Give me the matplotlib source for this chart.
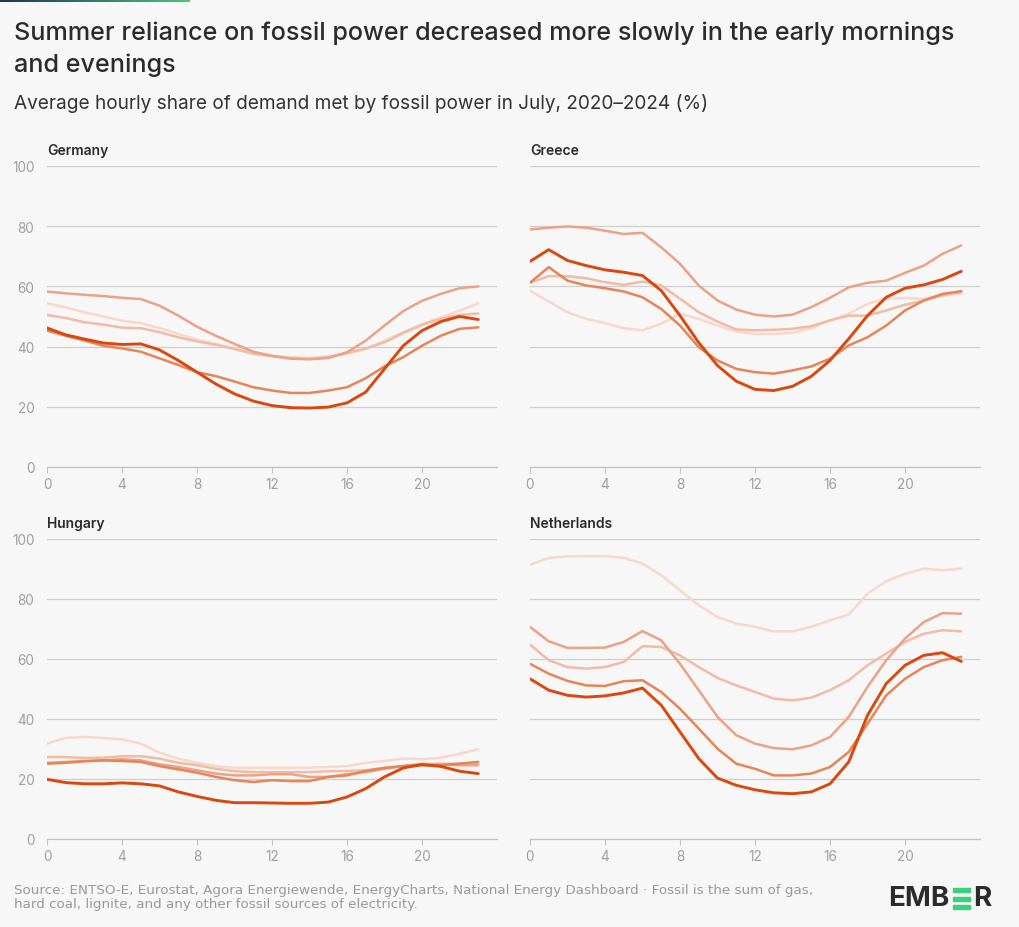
import numpy as np
import matplotlib
matplotlib.use("Agg")
import matplotlib.pyplot as plt
from matplotlib.patches import Rectangle
from matplotlib.colors import LinearSegmentedColormap

# hourly share of demand met by fossil power in July (%), hours 0..23
hours = list(range(24))
years = ["2020", "2021", "2022", "2023", "2024"]

germany = {
    "2020": [54.4, 53.0, 51.4, 50.0, 48.6, 47.8, 46.2, 44.2, 42.3, 40.9, 39.4, 37.9,
             37.0, 36.5, 36.2, 36.8, 37.6, 39.2, 42.0, 44.8, 47.5, 49.7, 51.9, 54.4],
    "2021": [50.5, 49.5, 48.1, 47.3, 46.3, 46.1, 44.8, 43.1, 41.7, 40.6, 39.2, 37.6,
             36.8, 36.1, 35.9, 36.5, 37.9, 39.4, 41.4, 44.5, 47.2, 49.2, 50.5, 51.0],
    "2022": [58.3, 57.7, 57.2, 56.8, 56.2, 55.8, 53.6, 50.3, 46.6, 43.6, 40.9, 38.3,
             36.9, 36.0, 35.8, 36.2, 38.1, 42.0, 47.0, 51.8, 55.2, 57.5, 59.4, 60.0],
    "2023": [45.3, 43.6, 42.0, 40.3, 39.4, 38.3, 36.1, 33.9, 31.5, 30.2, 28.4, 26.5,
             25.4, 24.6, 24.6, 25.4, 26.5, 29.5, 33.4, 36.5, 40.3, 43.6, 45.9, 46.4],
    "2024": [46.2, 43.9, 42.5, 41.2, 40.7, 40.9, 38.9, 35.4, 31.5, 27.6, 24.3, 21.9,
             20.4, 19.7, 19.6, 19.9, 21.3, 24.9, 32.6, 40.3, 45.3, 48.3, 50.0, 49.0],
}
greece = {
    "2020": [58.6, 55.0, 51.4, 49.2, 47.8, 46.1, 45.4, 47.6, 50.9, 49.2, 47.0, 45.0,
             44.2, 44.2, 44.6, 46.1, 48.7, 50.9, 54.2, 56.1, 56.1, 55.9, 57.0, 57.7],
    "2021": [61.2, 63.4, 63.4, 62.7, 61.4, 60.5, 61.6, 60.3, 55.9, 51.4, 48.3, 45.7,
             45.4, 45.6, 45.9, 46.8, 48.7, 50.3, 50.3, 52.0, 53.9, 55.3, 57.0, 58.3],
    "2022": [78.9, 79.5, 79.9, 79.5, 78.5, 77.4, 77.8, 73.0, 67.5, 60.3, 55.3, 52.3,
             50.6, 50.0, 50.6, 53.1, 56.2, 59.7, 61.2, 61.9, 64.5, 66.9, 70.8, 73.6],
    "2023": [61.2, 66.4, 61.9, 60.3, 59.4, 58.3, 56.4, 52.5, 47.0, 39.8, 35.4, 32.6,
             31.5, 31.0, 32.1, 33.4, 36.0, 40.4, 43.1, 47.0, 52.0, 55.3, 57.5, 58.4],
    "2024": [68.3, 72.2, 68.6, 66.9, 65.5, 64.7, 63.6, 58.6, 50.3, 41.3, 33.7, 28.5,
             25.8, 25.4, 26.8, 30.1, 35.4, 42.6, 50.3, 56.4, 59.4, 60.5, 62.3, 65.0],
}
hungary = {
    "2020": [31.8, 33.7, 34.0, 33.7, 33.2, 31.8, 28.8, 26.8, 25.4, 24.3, 23.7, 23.7,
             23.7, 23.7, 23.8, 24.0, 24.3, 25.4, 26.0, 26.8, 26.6, 27.1, 28.4, 29.9],
    "2021": [27.3, 27.3, 27.0, 27.1, 27.6, 27.6, 26.8, 25.4, 24.6, 23.4, 22.6, 22.3,
             22.3, 22.3, 22.3, 22.6, 22.7, 22.9, 23.7, 24.3, 24.8, 25.1, 25.1, 25.1],
    "2022": [25.4, 25.7, 26.0, 26.2, 26.6, 26.2, 24.9, 24.0, 22.9, 21.8, 21.2, 21.2,
             21.6, 21.6, 20.7, 20.7, 21.6, 22.3, 23.4, 24.3, 25.1, 24.8, 24.6, 24.6],
    "2023": [25.1, 25.4, 25.9, 26.2, 26.0, 25.7, 24.3, 23.2, 22.1, 20.7, 19.6, 19.0,
             19.6, 19.3, 19.3, 20.7, 21.2, 22.7, 23.7, 24.3, 24.6, 24.6, 25.1, 25.7],
    "2024": [19.9, 18.8, 18.4, 18.4, 18.7, 18.4, 17.7, 15.7, 14.2, 12.9, 12.1, 12.1,
             12.0, 11.9, 11.9, 12.3, 14.0, 16.8, 20.7, 23.7, 24.8, 24.2, 22.6, 21.8],
}
netherlands = {
    "2020": [91.4, 93.7, 94.2, 94.3, 94.3, 93.7, 91.8, 87.9, 82.9, 77.9, 74.0, 71.8,
             70.7, 69.2, 69.2, 70.7, 72.9, 74.8, 81.8, 85.9, 88.4, 90.1, 89.6, 90.1],
    "2021": [64.8, 59.6, 57.3, 56.8, 57.3, 59.0, 64.3, 64.0, 61.2, 57.3, 53.7, 51.2,
             49.0, 46.8, 46.2, 47.1, 49.6, 52.9, 57.9, 61.8, 65.7, 68.4, 69.6, 69.2],
    "2022": [70.7, 65.9, 63.7, 63.7, 63.8, 65.7, 69.3, 66.2, 58.4, 49.6, 40.7, 34.6,
             31.8, 30.3, 29.9, 31.2, 34.0, 40.7, 50.7, 59.6, 66.8, 72.3, 75.3, 75.1],
    "2023": [58.4, 55.1, 52.7, 51.2, 51.0, 52.6, 52.9, 49.0, 43.4, 36.8, 30.1, 25.1,
             23.4, 21.2, 21.2, 21.8, 24.0, 29.0, 38.4, 47.9, 53.4, 57.3, 59.6, 60.7],
    "2024": [53.4, 49.6, 47.9, 47.3, 47.7, 48.7, 50.3, 44.6, 35.7, 26.8, 20.3, 17.9,
             16.4, 15.4, 15.1, 15.7, 18.4, 25.7, 41.2, 51.8, 57.9, 61.2, 62.1, 59.2],
}

countries = ["Germany", "Greece", "Hungary", "Netherlands"]
country_data = [germany, greece, hungary, netherlands]
year_colors = {"2020": "#f7d8ca", "2021": "#f1bca6", "2022": "#eba286",
               "2023": "#e58559", "2024": "#d9480f"}
year_widths = {"2020": 1.8, "2021": 1.8, "2022": 1.8, "2023": 1.8, "2024": 2.1}

W, H = 1020, 928
bg = "#f7f7f7"
fig = plt.figure(figsize=(W / 100, H / 100), dpi=100, facecolor=bg)
plt.rcParams["font.family"] = ["Inter", "DejaVu Sans"]

# gradient bar at the very top
bar = fig.add_axes([0, 1 - 3 / H, 190 / W, 3 / H])
grad = np.linspace(0, 1, 256).reshape(1, -1)
cm = LinearSegmentedColormap.from_list("ember", ["#1c3553", "#2f7d6a", "#4cc47c"])
bar.imshow(grad, aspect="auto", cmap=cm)
bar.axis("off")

fig.text(14 / W, 1 - 33 / H, "Summer reliance on fossil power decreased more slowly in the early mornings",
         fontsize=18.1, color="#2b2b2b", va="center", ha="left", fontweight="medium")
fig.text(14 / W, 1 - 65 / H, "and evenings",
         fontsize=18.1, color="#2b2b2b", va="center", ha="left", fontweight="medium")
fig.text(14 / W, 1 - 104 / H, "Average hourly share of demand met by fossil power in July, 2020\u20132024 (%)",
         fontsize=13.7, color="#333333", va="center", ha="left")

# panel boxes in pixels: left, top(100), bottom(0)
boxes = [(47, 167, 468), (530, 167, 468), (47, 540, 840), (530, 540, 840)]
pw = 450

for i, (name, data) in enumerate(zip(countries, country_data)):
    left, top, bottom = boxes[i]
    ax = fig.add_axes([left / W, 1 - bottom / H, pw / W, (bottom - top) / H])
    ax.set_facecolor(bg)
    for y in years:
        ax.plot(hours, data[y], color=year_colors[y], lw=year_widths[y],
                solid_joinstyle="round", solid_capstyle="round", zorder=3)
    ax.set_xlim(0, 24)
    ax.set_ylim(0, 100)
    ax.set_yticks([0, 20, 40, 60, 80, 100])
    ax.set_xticks([0, 4, 8, 12, 16, 20])
    ax.grid(axis="y", color="#cfcfcf", lw=0.9, zorder=1)
    ax.grid(axis="x", visible=False)
    for s in ["top", "right", "left"]:
        ax.spines[s].set_visible(False)
    ax.spines["bottom"].set_color("#c4c4c4")
    ax.spines["bottom"].set_linewidth(0.9)
    ax.tick_params(axis="x", length=4, width=0.8, color="#c4c4c4", labelsize=9.8,
                   labelcolor="#a0a0a0", pad=3)
    ax.tick_params(axis="y", length=0, labelsize=9.8, labelcolor="#a0a0a0", pad=9)
    if i % 2 == 1:
        ax.set_yticklabels([])
    ax.text(0, 1.0 + 16 / (bottom - top), name, transform=ax.transAxes, fontsize=10,
            fontweight="semibold", color="#2b2b2b", va="center", ha="left")

footer_font = ["Liberation Sans Narrow", "DejaVu Sans"]
fig.text(14 / W, 1 - 891 / H,
         "Source: ENTSO-E, Eurostat, Agora Energiewende, EnergyCharts, National Energy Dashboard \u00b7 Fossil is the sum of gas,",
         fontsize=9.7, color="#9a9a9a", va="center", ha="left", family=footer_font)
fig.text(14 / W, 1 - 905 / H, "hard coal, lignite, and any other fossil sources of electricity.",
         fontsize=9.7, color="#9a9a9a", va="center", ha="left", family=footer_font)

# EMBER logo
fig.text(888 / W, 1 - 899 / H, "EMB", fontsize=20, fontweight="bold", color="#2b2b2b",
         va="center", ha="left")
for k in range(3):
    fig.patches.append(Rectangle((953 / W, 1 - (889 + k * 8.5 + 4) / H), 17 / W, 4 / H,
                                 transform=fig.transFigure, color="#3ccf7c"))
fig.text(973 / W, 1 - 899 / H, "R", fontsize=20, fontweight="bold", color="#2b2b2b",
         va="center", ha="left")

fig.savefig("out.png", dpi=100, facecolor=bg)
